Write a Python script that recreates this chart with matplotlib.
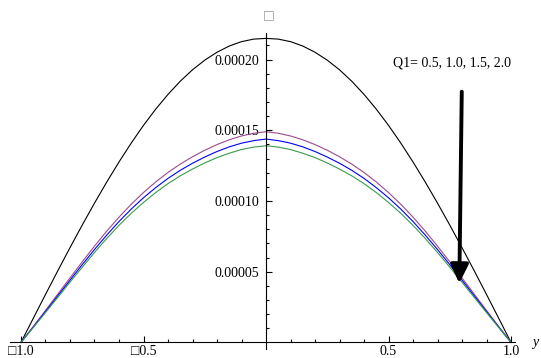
import numpy as np
import matplotlib
matplotlib.use('Agg')
import matplotlib.pyplot as plt
from matplotlib.ticker import FixedLocator, NullFormatter

plt.rcParams['font.family'] = ['Liberation Serif', 'DejaVu Sans']

# values (velocity in 1e-4 units)
y_pos = [-1.00, -0.95, -0.90, -0.85, -0.80, -0.75, -0.70, -0.65, -0.60, -0.55, -0.50,
         -0.45, -0.40, -0.35, -0.30, -0.25, -0.20, -0.15, -0.10, -0.05, 0.00,
         0.05, 0.10, 0.15, 0.20, 0.25, 0.30, 0.35, 0.40, 0.45, 0.50,
         0.55, 0.60, 0.65, 0.70, 0.75, 0.80, 0.85, 0.90, 0.95, 1.00]

v_black = [0.000, 0.170, 0.339, 0.506, 0.670, 0.830, 0.985, 1.134, 1.276, 1.410, 1.535,
           1.650, 1.754, 1.847, 1.928, 1.996, 2.052, 2.096, 2.127, 2.145, 2.150,
           2.145, 2.127, 2.096, 2.052, 1.996, 1.928, 1.847, 1.754, 1.650, 1.535,
           1.410, 1.276, 1.134, 0.985, 0.830, 0.670, 0.506, 0.339, 0.170, 0.000]

v_purple = [0.000, 0.112, 0.226, 0.341, 0.456, 0.570, 0.681, 0.787, 0.886, 0.977, 1.060,
            1.135, 1.202, 1.261, 1.313, 1.359, 1.399, 1.433, 1.460, 1.479, 1.490,
            1.479, 1.460, 1.433, 1.399, 1.359, 1.313, 1.261, 1.202, 1.135, 1.060,
            0.977, 0.886, 0.787, 0.681, 0.570, 0.456, 0.341, 0.226, 0.112, 0.000]

v_blue = [0.000, 0.108, 0.218, 0.329, 0.440, 0.550, 0.657, 0.759, 0.855, 0.943, 1.023,
          1.095, 1.160, 1.217, 1.267, 1.311, 1.350, 1.383, 1.409, 1.427, 1.438,
          1.427, 1.409, 1.383, 1.350, 1.311, 1.267, 1.217, 1.160, 1.095, 1.023,
          0.943, 0.855, 0.759, 0.657, 0.550, 0.440, 0.329, 0.218, 0.108, 0.000]

v_green = [0.000, 0.105, 0.211, 0.318, 0.426, 0.532, 0.636, 0.735, 0.828, 0.913, 0.990,
           1.060, 1.123, 1.178, 1.226, 1.269, 1.307, 1.338, 1.364, 1.381, 1.391,
           1.381, 1.364, 1.338, 1.307, 1.269, 1.226, 1.178, 1.123, 1.060, 0.990,
           0.913, 0.828, 0.735, 0.636, 0.532, 0.426, 0.318, 0.211, 0.105, 0.000]

x_major = [-1.0, -0.5, 0.5, 1.0]
x_labels = ['\u25a11.0', '\u25a10.5', '0.5', '1.0']
y_major = [0.00005, 0.00010, 0.00015, 0.00020]
y_labels = ['0.00005', '0.00010', '0.00015', '0.00020']

scale = 1e-4

fig = plt.figure(figsize=(5.41, 3.58), dpi=100)
ax = fig.add_axes([0, 0, 1, 1])

ax.plot(y_pos, np.array(v_black) * scale, color='black', lw=0.8)
ax.plot(y_pos, np.array(v_purple) * scale, color='#9b4a8e', lw=0.8)
ax.plot(y_pos, np.array(v_blue) * scale, color='#0000ff', lw=0.8)
ax.plot(y_pos, np.array(v_green) * scale, color='#3a9a4e', lw=0.8)

ax.set_xlim(-1.0857, 1.1224)
ax.set_ylim(-1.103e-5, 2.4215e-4)

# axes crossing at the origin
ax.spines['left'].set_position(('data', 0))
ax.spines['bottom'].set_position(('data', 0))
ax.spines['right'].set_visible(False)
ax.spines['top'].set_visible(False)
ax.spines['left'].set_bounds(-0.5e-5, 2.19e-4)
ax.spines['bottom'].set_bounds(-1.045, 1.018)

ax.xaxis.set_major_locator(FixedLocator(x_major))
ax.set_xticklabels(x_labels)
ax.xaxis.set_minor_locator(FixedLocator([-0.9, -0.8, -0.7, -0.6, -0.4, -0.3, -0.2, -0.1,
                                         0.1, 0.2, 0.3, 0.4, 0.6, 0.7, 0.8, 0.9]))
ax.yaxis.set_major_locator(FixedLocator(y_major))
ax.set_yticklabels(y_labels)
ax.yaxis.set_minor_locator(FixedLocator([k * 1e-5 for k in range(1, 22) if k % 5 != 0]))
ax.xaxis.set_minor_formatter(NullFormatter())
ax.yaxis.set_minor_formatter(NullFormatter())

ax.tick_params(which='both', direction='in', labelsize=10, width=0.8)
ax.tick_params(which='major', length=4)
ax.tick_params(which='minor', length=2.2)
ax.tick_params(axis='x', pad=2)
ax.tick_params(axis='y', pad=5)

ax.text(1.098, 0.0, 'y', style='italic', fontsize=10, ha='center', va='center')
ax.text(0.01, 2.315e-4, '\u25a1', color='0.6', fontsize=9, ha='center', va='center',
        family=['DejaVu Sans'])

ax.text(0.758, 1.974e-4, 'Q1= 0.5, 1.0, 1.5, 2.0', fontsize=10, ha='center', va='center')
ax.annotate('', xy=(0.789, 0.418e-4), xytext=(0.799, 1.773e-4),
            arrowprops=dict(arrowstyle='-|>,head_width=0.36,head_length=0.75',
                            color='black', lw=2.8, mutation_scale=15,
                            shrinkA=0, shrinkB=0))

fig.savefig('out.png', dpi=100)
